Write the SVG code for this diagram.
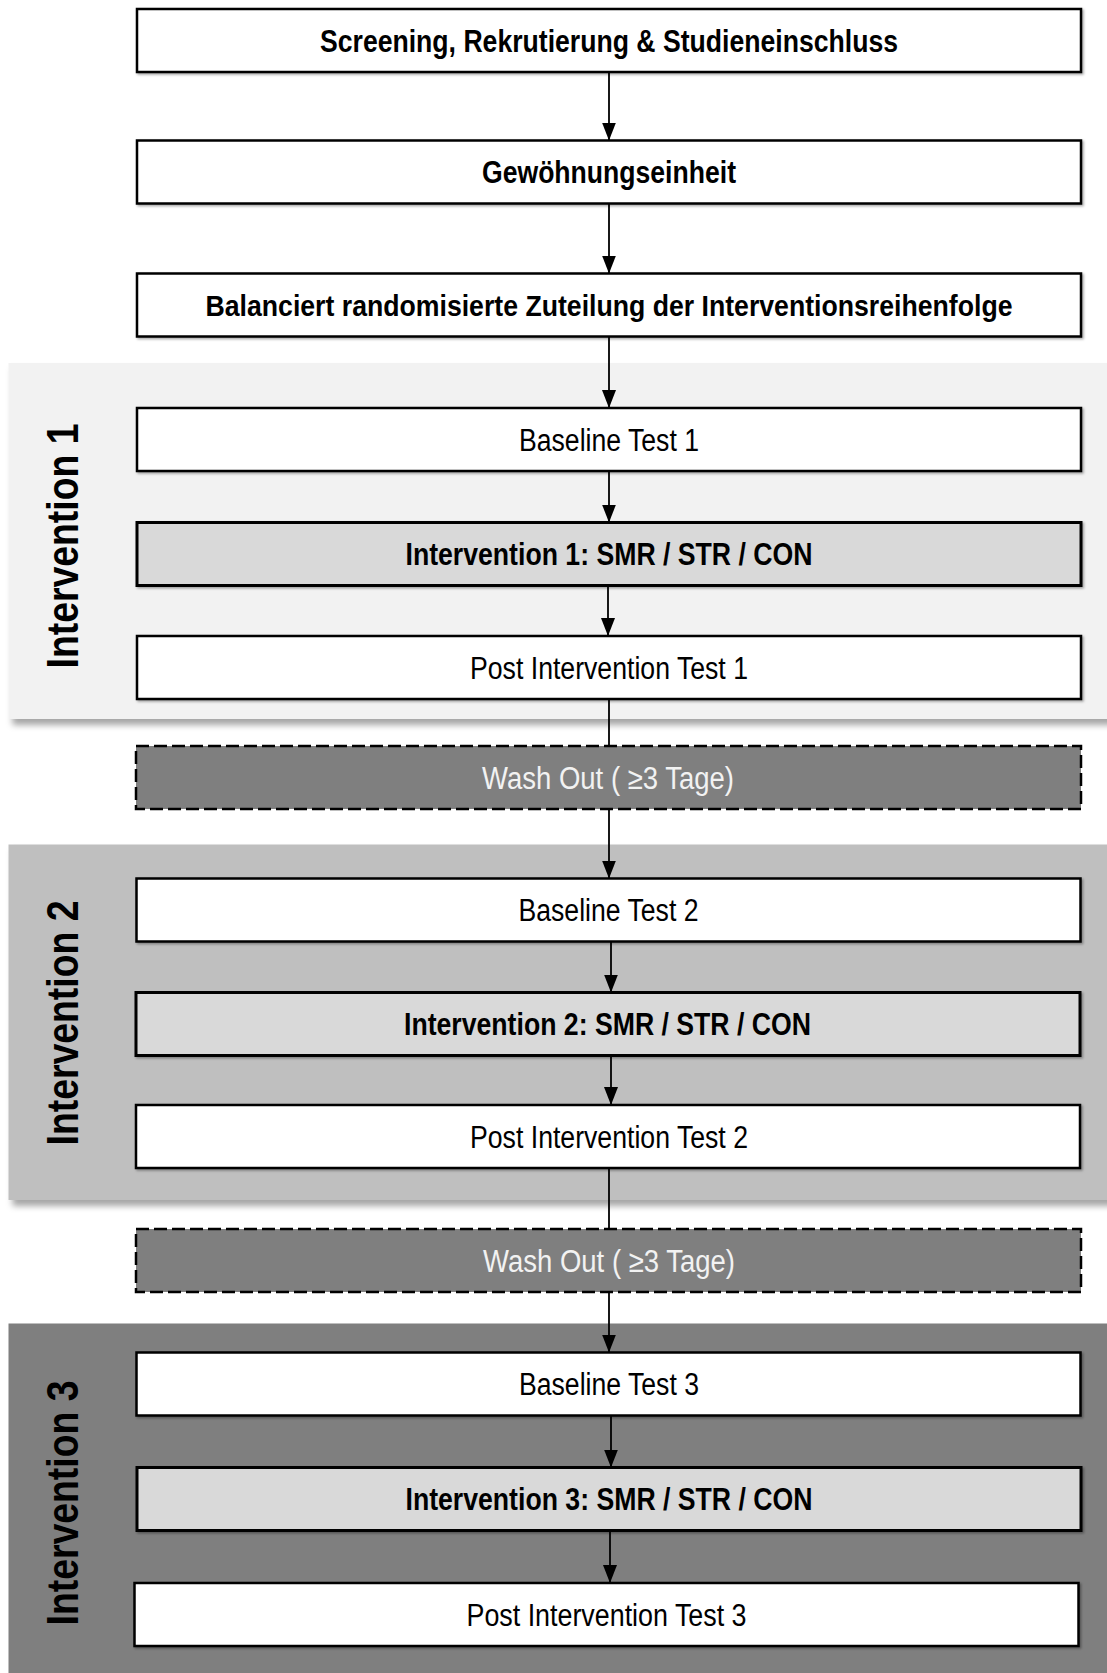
<svg xmlns="http://www.w3.org/2000/svg" width="1107" height="1673" viewBox="0 0 1107 1673">
  <defs>
    <filter id="panelShadow" x="-5%" y="-5%" width="110%" height="115%">
      <feDropShadow dx="4" dy="6" stdDeviation="3" flood-color="#000" flood-opacity="0.35"/>
    </filter>
    <filter id="boxShadow" x="-2%" y="-10%" width="104%" height="130%">
      <feDropShadow dx="1.5" dy="1.5" stdDeviation="1" flood-color="#000" flood-opacity="0.35"/>
    </filter>
    <marker id="arr" viewBox="0 0 18 14" refX="18" refY="7" markerWidth="18" markerHeight="14" markerUnits="userSpaceOnUse" orient="auto">
      <path d="M0,0 L18,7 L0,14 Z" fill="#000"/>
    </marker>
  </defs>
  <style>
    .box { fill: #ffffff; stroke: #000; stroke-width: 2.5; filter: url(#boxShadow); }
    .ibox { fill: #d9d9d9; stroke: #000; stroke-width: 3; filter: url(#boxShadow); }
    .wbox { fill: #7f7f7f; stroke: #000; stroke-width: 2.5; stroke-dasharray: 13 5; }
    .t { font-family: "Liberation Sans", Arial, sans-serif; font-size: 31px; fill: #000; text-anchor: middle; }
    .b { font-weight: bold; }
    .s { font-size: 29px; }
    .w { fill: #f2f2f2; }
    .lbl { font-family: "Liberation Sans", Arial, sans-serif; font-size: 44px; font-weight: bold; fill: #000; text-anchor: middle; }
    .conn { stroke: #000; stroke-width: 1.8; fill: none; }
  </style>

  <!-- Panels -->
  <g id="panel1">
    <rect x="8.5" y="363" width="1110" height="356" fill="#f2f2f2" filter="url(#panelShadow)"/>
    <text class="lbl" transform="translate(78,546) rotate(-90)" textLength="245" lengthAdjust="spacingAndGlyphs">Intervention 1</text>
  </g>
  <g id="panel2">
    <rect x="8.5" y="844.5" width="1110" height="355.5" fill="#bfbfbf" filter="url(#panelShadow)"/>
    <text class="lbl" transform="translate(78,1023) rotate(-90)" textLength="245" lengthAdjust="spacingAndGlyphs">Intervention 2</text>
  </g>
  <g id="panel3">
    <rect x="8.5" y="1323.5" width="1110" height="360" fill="#7f7f7f"/>
    <text class="lbl" transform="translate(78,1503) rotate(-90)" textLength="245" lengthAdjust="spacingAndGlyphs">Intervention 3</text>
  </g>

  <!-- Connectors -->
  <g id="connectors">
    <line class="conn" x1="609" y1="71.5" x2="609" y2="140.5" marker-end="url(#arr)"/>
    <line class="conn" x1="609" y1="203.5" x2="609" y2="273.5" marker-end="url(#arr)"/>
    <line class="conn" x1="609" y1="336.5" x2="609" y2="408" marker-end="url(#arr)"/>
    <line class="conn" x1="609" y1="471" x2="609" y2="522.5" marker-end="url(#arr)"/>
    <line class="conn" x1="608" y1="585.5" x2="608" y2="636" marker-end="url(#arr)"/>
    <line class="conn" x1="609" y1="699" x2="609" y2="746"/>
    <line class="conn" x1="609" y1="809" x2="609" y2="878.5" marker-end="url(#arr)"/>
    <line class="conn" x1="611" y1="941.5" x2="611" y2="992.5" marker-end="url(#arr)"/>
    <line class="conn" x1="611" y1="1055.5" x2="611" y2="1105" marker-end="url(#arr)"/>
    <line class="conn" x1="609" y1="1168" x2="609" y2="1229"/>
    <line class="conn" x1="609" y1="1292" x2="609" y2="1352.5" marker-end="url(#arr)"/>
    <line class="conn" x1="611" y1="1415.5" x2="611" y2="1467.5" marker-end="url(#arr)"/>
    <line class="conn" x1="610" y1="1530.5" x2="610" y2="1583" marker-end="url(#arr)"/>
  </g>

  <!-- Nodes -->
  <g id="screening">
    <rect class="box" x="137" y="9" width="944" height="63"/>
    <text class="t b" x="609" y="51.5" textLength="578" lengthAdjust="spacingAndGlyphs">Screening, Rekrutierung &amp; Studieneinschluss</text>
  </g>
  <g id="gewoehnung">
    <rect class="box" x="137" y="140.5" width="944" height="63"/>
    <text class="t b" x="609" y="183" textLength="254" lengthAdjust="spacingAndGlyphs">Gewöhnungseinheit</text>
  </g>
  <g id="randomisierung">
    <rect class="box" x="137" y="273.5" width="944" height="63"/>
    <text class="t b s" x="609" y="315.5" textLength="807" lengthAdjust="spacingAndGlyphs">Balanciert randomisierte Zuteilung der Interventionsreihenfolge</text>
  </g>

  <g id="baseline1">
    <rect class="box" x="137" y="408" width="944" height="63"/>
    <text class="t" x="609" y="450.5" textLength="180" lengthAdjust="spacingAndGlyphs">Baseline Test 1</text>
  </g>
  <g id="intervention1">
    <rect class="ibox" x="137" y="522.5" width="944" height="63"/>
    <text class="t b" x="609" y="565" textLength="407" lengthAdjust="spacingAndGlyphs">Intervention 1: SMR / STR / CON</text>
  </g>
  <g id="post1">
    <rect class="box" x="137" y="636" width="944" height="63"/>
    <text class="t" x="609" y="678.5" textLength="278" lengthAdjust="spacingAndGlyphs">Post Intervention Test 1</text>
  </g>
  <g id="washout1">
    <rect class="wbox" x="136" y="746" width="945" height="63"/>
    <text class="t w" x="608" y="788.5" textLength="252" lengthAdjust="spacingAndGlyphs">Wash Out ( ≥3 Tage)</text>
  </g>

  <g id="baseline2">
    <rect class="box" x="136.5" y="878.5" width="944" height="63"/>
    <text class="t" x="608.5" y="921" textLength="180" lengthAdjust="spacingAndGlyphs">Baseline Test 2</text>
  </g>
  <g id="intervention2">
    <rect class="ibox" x="136" y="992.5" width="944" height="63"/>
    <text class="t b" x="607.5" y="1035" textLength="407" lengthAdjust="spacingAndGlyphs">Intervention 2: SMR / STR / CON</text>
  </g>
  <g id="post2">
    <rect class="box" x="136" y="1105" width="944" height="63"/>
    <text class="t" x="609" y="1147.5" textLength="278" lengthAdjust="spacingAndGlyphs">Post Intervention Test 2</text>
  </g>
  <g id="washout2">
    <rect class="wbox" x="136" y="1229" width="945" height="63"/>
    <text class="t w" x="609" y="1271.5" textLength="252" lengthAdjust="spacingAndGlyphs">Wash Out ( ≥3 Tage)</text>
  </g>

  <g id="baseline3">
    <rect class="box" x="136.5" y="1352.5" width="944" height="63"/>
    <text class="t" x="609" y="1395" textLength="180" lengthAdjust="spacingAndGlyphs">Baseline Test 3</text>
  </g>
  <g id="intervention3">
    <rect class="ibox" x="137" y="1467.5" width="944" height="63"/>
    <text class="t b" x="609" y="1510" textLength="407" lengthAdjust="spacingAndGlyphs">Intervention 3: SMR / STR / CON</text>
  </g>
  <g id="post3">
    <rect class="box" x="134.5" y="1583" width="944" height="63"/>
    <text class="t" x="606.5" y="1625.5" textLength="280" lengthAdjust="spacingAndGlyphs">Post Intervention Test 3</text>
  </g>
</svg>
